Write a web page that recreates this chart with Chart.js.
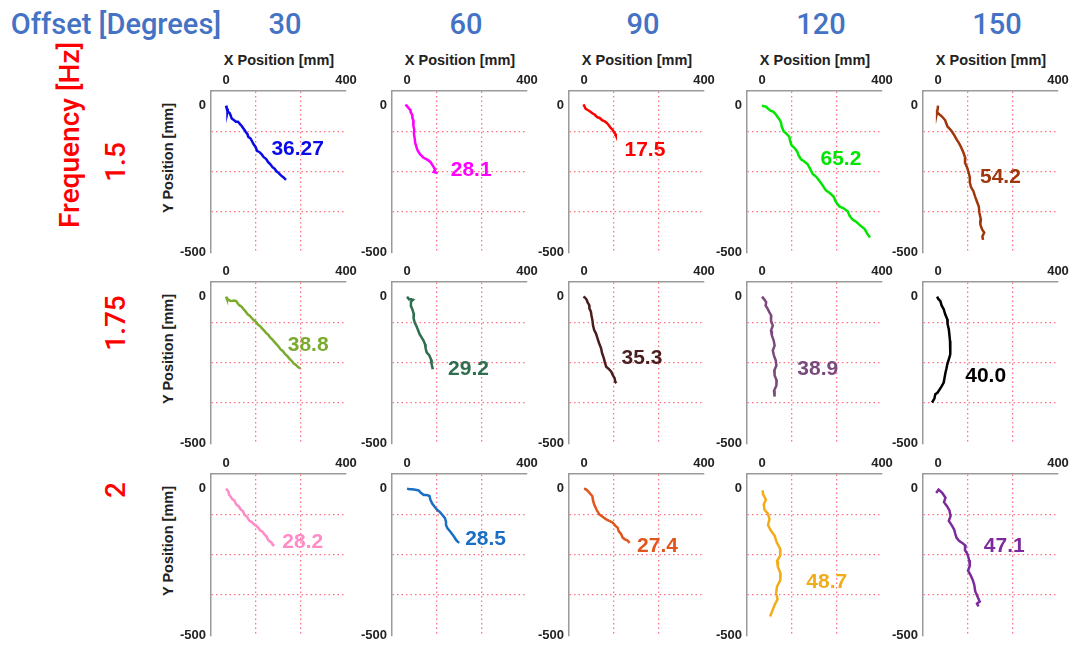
<!DOCTYPE html>
<html>
<head>
<meta charset="utf-8">
<title>Trajectories by offset and frequency</title>
<script src="https://cdn.jsdelivr.net/npm/chart.js@4.4.1/dist/chart.umd.min.js"></script>
<style>
  body { margin: 0; background: #fff; }
  #page { position: relative; width: 1072px; height: 647px; overflow: hidden; font-family: "Liberation Sans", Arial, sans-serif; }
  .panel { position: absolute; }
  .txt { position: absolute; white-space: nowrap; transform: translate(-50%, -50%); }
  .head { color: #4472c4; font-family: Roboto, "Noto Sans", sans-serif; font-size: 29px; font-weight: 500; }
  .freq { color: #ff0000; font-family: Roboto, "Noto Sans", sans-serif; font-size: 28px; font-weight: 500; }
  .axt { color: #222; font-weight: bold; font-size: 14.5px; }
  .rot { transform: translate(-50%, -50%) rotate(-90deg); }
</style>
</head>
<body>
<div id="page"></div>
<script>
// Offsets (columns) and frequencies (rows)
const offsets = ['30', '60', '90', '120', '150'];
const freqs = ['1.5', '1.75', '2'];

// Path length shown next to each trace
const pathLengths = [
  ['36.27', '28.1', '17.5', '65.2', '54.2'],
  ['38.8', '29.2', '35.3', '38.9', '40.0'],
  ['28.2', '28.5', '27.4', '48.7', '47.1']
];

// Trajectories [x, y] in mm
const f15_o30 = [[0,0],[2,-8],[6,-14],[5,-19],[12,-25],[15,-32],[19,-44],[25,-48],[33,-55],[40,-55],[46,-62],[53,-70],[61,-82],[66,-90],[72,-98],[74,-106],[82,-112],[88,-124],[92,-132],[98,-140],[104,-155],[111,-158],[119,-166],[125,-175],[134,-182],[140,-192],[148,-200],[155,-210],[162,-215],[168,-224],[176,-230],[183,-238],[191,-244],[200,-253]];
const f15_o60 = [[-5,4],[2,-4],[6,-9],[11,-14],[12,-22],[17,-31],[18,-42],[22,-53],[21,-66],[24,-81],[23,-96],[26,-114],[27,-126],[31,-139],[34,-150],[39,-159],[44,-166],[50,-172],[55,-178],[61,-181],[70,-186],[78,-192],[83,-200],[87,-206],[90,-212],[94,-218],[89,-226],[96,-228],[102,-231]];
const f15_o90 = [[-2,4],[2,-3],[5,-10],[11,-14],[18,-18],[28,-26],[36,-31],[44,-39],[52,-42],[61,-50],[68,-53],[76,-59],[82,-66],[89,-76],[95,-82],[100,-90],[104,-96],[106,-101],[103,-98],[107,-103]];
const f15_o120 = [[0,0],[6,-2],[13,-3],[20,-10],[28,-17],[35,-19],[41,-24],[47,-31],[52,-39],[58,-47],[63,-56],[66,-72],[72,-87],[82,-96],[91,-106],[94,-122],[99,-136],[108,-144],[117,-156],[122,-170],[130,-183],[140,-190],[152,-200],[160,-215],[169,-233],[180,-242],[191,-256],[202,-272],[213,-289],[226,-298],[239,-311],[246,-328],[258,-344],[272,-350],[286,-361],[292,-376],[302,-389],[316,-398],[330,-411],[343,-422],[350,-436],[360,-450]];
const f15_o150 = [[0,0],[-1,-12],[-3,-22],[8,-33],[14,-38],[24,-50],[28,-62],[32,-72],[40,-80],[47,-89],[55,-102],[63,-117],[70,-128],[77,-142],[84,-158],[91,-178],[90,-195],[97,-211],[102,-228],[106,-244],[106,-262],[110,-278],[118,-292],[124,-311],[130,-328],[136,-344],[138,-366],[143,-389],[141,-405],[147,-422],[154,-433],[148,-446],[150,-458]];

const f175_o30 = [[0,0],[3,-8],[8,-10],[14,-14],[20,-15],[28,-13],[34,-15],[40,-24],[45,-30],[52,-34],[58,-42],[65,-50],[72,-60],[78,-64],[85,-72],[92,-80],[100,-86],[106,-95],[113,-100],[120,-108],[128,-117],[134,-124],[141,-130],[147,-139],[154,-146],[162,-155],[168,-162],[175,-170],[182,-180],[190,-186],[197,-196],[204,-202],[212,-212],[218,-218],[226,-228],[232,-232],[240,-240],[248,-245]];
const f175_o60 = [[0,0],[3,-4],[7,-9],[14,-9],[20,-11],[13,-18],[13,-32],[18,-44],[23,-60],[22,-74],[26,-89],[32,-102],[38,-117],[42,-128],[49,-140],[55,-150],[60,-162],[62,-176],[66,-191],[74,-200],[80,-214],[82,-230],[86,-248]];
const f175_o90 = [[-2,0],[4,-4],[9,-11],[12,-20],[17,-28],[18,-40],[23,-51],[25,-65],[28,-80],[30,-98],[34,-114],[40,-126],[45,-142],[50,-158],[57,-176],[60,-192],[66,-210],[70,-226],[74,-239],[84,-248],[91,-256],[96,-268],[102,-278],[104,-290],[108,-295]];
const f175_o120 = [[0,0],[8,-10],[14,-19],[12,-30],[19,-42],[24,-52],[31,-65],[30,-82],[36,-99],[30,-116],[33,-133],[39,-150],[42,-167],[36,-184],[40,-201],[46,-218],[48,-235],[41,-252],[42,-269],[49,-286],[48,-303],[40,-322],[42,-341]];
const f175_o150 = [[-3,0],[1,-8],[8,-15],[12,-30],[19,-43],[24,-60],[31,-77],[32,-94],[36,-111],[38,-130],[40,-151],[42,-174],[40,-197],[36,-214],[31,-231],[28,-246],[25,-259],[22,-276],[19,-293],[12,-306],[2,-322],[-2,-328],[-9,-333],[-12,-348],[-20,-361]];

const f2_o30 = [[0,0],[5,-6],[9,-12],[10,-20],[16,-28],[22,-37],[28,-40],[34,-54],[42,-60],[50,-72],[56,-76],[62,-90],[70,-96],[78,-110],[86,-114],[94,-122],[100,-126],[108,-134],[114,-143],[122,-147],[128,-156],[136,-165],[140,-174],[146,-180],[152,-184],[156,-192],[161,-194]];
const f2_o60 = [[0,0],[8,-2],[17,-2],[28,-4],[39,-6],[46,-14],[56,-22],[66,-22],[75,-25],[78,-38],[84,-51],[92,-62],[101,-73],[110,-80],[118,-90],[126,-100],[130,-112],[130,-124],[135,-135],[144,-146],[152,-157],[158,-166],[163,-174],[168,-180],[174,-185]];
const f2_o90 = [[0,0],[6,-2],[11,-6],[18,-14],[28,-26],[30,-40],[34,-54],[42,-72],[51,-88],[62,-96],[73,-104],[84,-110],[96,-116],[104,-126],[112,-133],[116,-146],[124,-155],[128,-166],[135,-172],[144,-176],[152,-185]];
const f2_o120 = [[2,-6],[4,-20],[13,-37],[6,-54],[8,-71],[20,-86],[25,-104],[20,-124],[30,-144],[42,-160],[49,-183],[60,-204],[61,-228],[50,-247],[53,-267],[62,-290],[61,-312],[50,-334],[47,-357],[52,-377],[42,-397],[34,-418],[27,-436]];
const f2_o150 = [[-6,-15],[2,-3],[14,-14],[25,-31],[20,-46],[30,-60],[38,-74],[42,-93],[36,-110],[47,-127],[54,-140],[58,-155],[62,-168],[70,-178],[82,-186],[92,-195],[90,-210],[98,-223],[104,-244],[106,-263],[100,-280],[109,-296],[116,-312],[121,-329],[124,-350],[132,-369],[139,-385],[130,-392],[135,-402]];

const traces = [
  [f15_o30, f15_o60, f15_o90, f15_o120, f15_o150],
  [f175_o30, f175_o60, f175_o90, f175_o120, f175_o150],
  [f2_o30, f2_o60, f2_o90, f2_o120, f2_o150]
];

const colors = [
  ['#0a0ae6', '#ff00ff', '#ff0000', '#00e600', '#a0360c'],
  ['#7aab2e', '#2f6e4f', '#4a1e1e', '#7a4a7e', '#000000'],
  ['#ff8cc6', '#1a6fc4', '#e0561c', '#f2ac18', '#7d2a9c']
];

// where the value label sits, in data units
const labelAt = [
  [[239,-148], [214,-220], [203,-153], [263,-183], [208,-244]],
  [[274,-165], [205,-248], [193,-210], [186,-247], [159,-270]],
  [[256,-182], [262,-174], [245,-198], [216,-318], [221,-197]]
];

const plotLefts = [211, 392, 569, 747, 923];
const plotTops = [91, 282, 474];
const PW = 135, PH = 164, AX_W = 35, AX_H = 20, PAD_R = 15, PAD_B = 10;

const gridRed = 'rgba(255,90,110,0.85)';
const tickFont = { family: '"Liberation Sans", Arial, sans-serif', size: 13, weight: 'bold' };

const page = document.getElementById('page');

function addText(cls, text, x, y) {
  const d = document.createElement('div');
  d.className = 'txt ' + cls;
  d.textContent = text;
  d.style.left = x + 'px';
  d.style.top = y + 'px';
  page.appendChild(d);
}

const valueLabel = {
  id: 'valueLabel',
  afterDatasetsDraw(chart, args, opts) {
    const { ctx, scales: { x, y } } = chart;
    ctx.save();
    ctx.font = 'bold 21px "Liberation Sans", Arial, sans-serif';
    ctx.fillStyle = opts.color;
    ctx.textAlign = 'center';
    ctx.textBaseline = 'middle';
    ctx.fillText(opts.text, x.getPixelForValue(opts.x), y.getPixelForValue(opts.y));
    ctx.restore();
  }
};

function makePanel(r, c) {
  const canvas = document.createElement('canvas');
  const w = AX_W + PW + PAD_R, h = AX_H + PH + PAD_B;
  canvas.width = w;
  canvas.height = h;
  const box = document.createElement('div');
  box.className = 'panel';
  box.style.left = (plotLefts[c] - AX_W) + 'px';
  box.style.top = (plotTops[r] - AX_H) + 'px';
  box.style.width = w + 'px';
  box.style.height = h + 'px';
  box.appendChild(canvas);
  page.appendChild(box);

  const pts = traces[r][c].map(p => ({ x: p[0], y: p[1] }));

  new Chart(canvas, {
    type: 'scatter',
    data: {
      datasets: [{
        data: pts,
        showLine: true,
        borderColor: colors[r][c],
        borderWidth: 2.5,
        pointRadius: 0,
        tension: 0
      }]
    },
    plugins: [valueLabel],
    options: {
      responsive: false,
      animation: false,
      devicePixelRatio: 1,
      layout: { padding: { top: 0, left: 0, right: PAD_R, bottom: PAD_B } },
      plugins: {
        legend: { display: false },
        tooltip: { enabled: false },
        valueLabel: { text: pathLengths[r][c], color: colors[r][c], x: labelAt[r][c][0], y: labelAt[r][c][1] }
      },
      scales: {
        x: {
          type: 'linear',
          position: 'top',
          min: -50,
          max: 400,
          afterBuildTicks: s => { s.ticks = [-50, 0, 100, 250, 400].map(v => ({ value: v })); },
          afterFit: s => { s.height = AX_H; },
          ticks: {
            autoSkip: false,
            maxRotation: 0,
            padding: 3,
            color: '#222',
            font: tickFont,
            callback: v => (v === 0 || v === 400) ? String(v) : ''
          },
          grid: {
            drawTicks: false,
            lineWidth: 1.3,
            color: ctx => (ctx.tick && (ctx.tick.value === 100 || ctx.tick.value === 250)) ? gridRed : 'rgba(0,0,0,0)'
          },
          border: { display: true, color: '#9a9a9a', width: 1.5, dash: [1.5, 3] }
        },
        y: {
          type: 'linear',
          min: -500,
          max: 50,
          afterBuildTicks: s => { s.ticks = [-500, -362.5, -225, -87.5, 0, 50].map(v => ({ value: v })); },
          afterFit: s => { s.width = AX_W; },
          ticks: {
            autoSkip: false,
            padding: 5,
            color: '#222',
            font: tickFont,
            callback: v => (v === 0 || v === -500) ? String(v) : ''
          },
          grid: {
            drawTicks: false,
            lineWidth: 1.3,
            color: ctx => (ctx.tick && [-362.5, -225, -87.5].includes(ctx.tick.value)) ? gridRed : 'rgba(0,0,0,0)'
          },
          border: { display: true, color: '#9a9a9a', width: 1.5, dash: [1.5, 3] }
        }
      }
    }
  });
}

// headers
addText('head', 'Offset [Degrees]', 116, 24);
offsets.forEach((o, c) => addText('head', o, plotLefts[c] + 74, 24));
addText('freq rot', 'Frequency [Hz]', 69, 135);
const freqY = [162, 323, 490];
freqs.forEach((f, r) => addText('freq rot', f, 115, freqY[r]));

// axis titles
plotLefts.forEach(l => addText('axt', 'X Position [mm]', l + 68, 60));
plotTops.forEach(t => addText('axt rot', 'Y Position [mm]', 168, t + 67));

for (let r = 0; r < 3; r++) {
  for (let c = 0; c < 5; c++) makePanel(r, c);
}
</script>
</body>
</html>
